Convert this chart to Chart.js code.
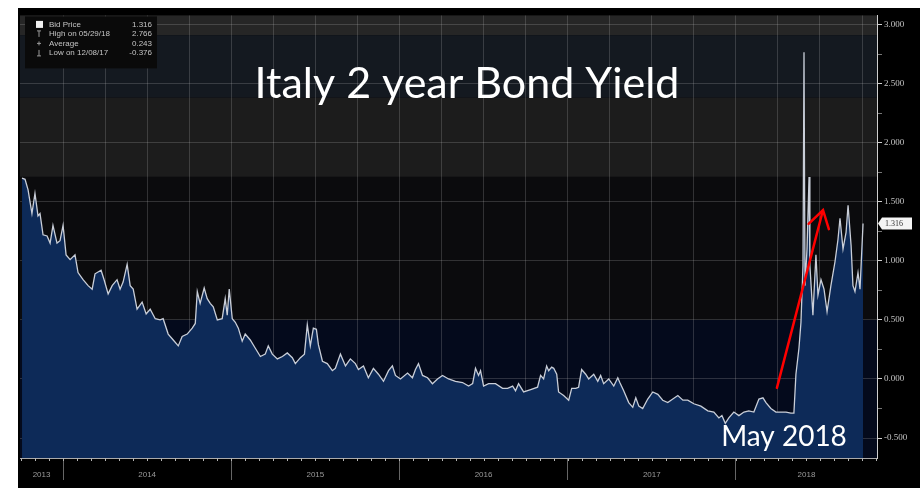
<!DOCTYPE html>
<html>
<head>
<meta charset="utf-8">
<title>Italy 2 year Bond Yield</title>
<script src="https://cdn.jsdelivr.net/npm/chart.js@4.4.1/dist/chart.umd.min.js"></script>
<style>
  html, body { margin: 0; padding: 0; background: #fff; }
  #wrap { position: absolute; left: 18px; top: 8px; width: 902px; height: 480px; background: #000; }
</style>
</head>
<body>
<div id="wrap"><canvas id="bond-chart" width="902" height="480"></canvas></div>
<script>
// dates as decimal years, yields in percent
var dates = [
  2013.756, 2013.774, 2013.792, 2013.815, 2013.833, 2013.851, 2013.863, 2013.881, 2013.905, 2013.923,
  2013.940, 2013.964, 2013.982, 2014.000, 2014.018, 2014.042, 2014.071, 2014.089, 2014.119, 2014.149,
  2014.173, 2014.190, 2014.226, 2014.244, 2014.268, 2014.292, 2014.321, 2014.339, 2014.357, 2014.381,
  2014.399, 2014.417, 2014.440, 2014.470, 2014.494, 2014.518, 2014.548, 2014.577, 2014.595, 2014.625,
  2014.655, 2014.685, 2014.708, 2014.738, 2014.768, 2014.786, 2014.798, 2014.815, 2014.839, 2014.857,
  2014.875, 2014.893, 2014.917, 2014.946, 2014.964, 2014.976, 2014.988, 2015.006, 2015.024, 2015.042,
  2015.065, 2015.083, 2015.113, 2015.143, 2015.173, 2015.202, 2015.220, 2015.244, 2015.274, 2015.304,
  2015.333, 2015.363, 2015.381, 2015.411, 2015.435, 2015.452, 2015.470, 2015.488, 2015.506, 2015.518,
  2015.542, 2015.571, 2015.601, 2015.619, 2015.649, 2015.679, 2015.708, 2015.738, 2015.756, 2015.786,
  2015.815, 2015.845, 2015.875, 2015.905, 2015.935, 2015.958, 2015.976, 2016.006, 2016.048, 2016.077,
  2016.095, 2016.113, 2016.137, 2016.167, 2016.196, 2016.226, 2016.256, 2016.292, 2016.333, 2016.375,
  2016.411, 2016.435, 2016.452, 2016.470, 2016.482, 2016.500, 2016.530, 2016.571, 2016.613, 2016.643,
  2016.673, 2016.690, 2016.708, 2016.738, 2016.780, 2016.821, 2016.839, 2016.857, 2016.875, 2016.887,
  2016.905, 2016.917, 2016.935, 2016.946, 2016.976, 2017.006, 2017.024, 2017.048, 2017.065, 2017.083,
  2017.107, 2017.125, 2017.155, 2017.179, 2017.196, 2017.214, 2017.244, 2017.274, 2017.298, 2017.310,
  2017.333, 2017.363, 2017.387, 2017.405, 2017.423, 2017.446, 2017.476, 2017.506, 2017.536, 2017.565,
  2017.595, 2017.625, 2017.655, 2017.685, 2017.714, 2017.750, 2017.792, 2017.833, 2017.869, 2017.899,
  2017.917, 2017.937, 2017.958, 2017.988, 2018.018, 2018.048, 2018.077, 2018.107, 2018.137, 2018.161,
  2018.179, 2018.208, 2018.238, 2018.268, 2018.298, 2018.327, 2018.345, 2018.357, 2018.375, 2018.387,
  2018.399, 2018.405, 2018.411, 2018.423, 2018.435, 2018.440, 2018.458, 2018.476, 2018.488, 2018.506,
  2018.524, 2018.542, 2018.565, 2018.589, 2018.607, 2018.619, 2018.637, 2018.655, 2018.667, 2018.685,
  2018.696, 2018.708, 2018.726, 2018.738, 2018.756
];
var yields = [
  1.70, 1.69, 1.60, 1.40, 1.57, 1.38, 1.40, 1.22, 1.21, 1.15,
  1.30, 1.15, 1.17, 1.30, 1.05, 1.01, 1.05, 0.90, 0.84, 0.79,
  0.76, 0.89, 0.92, 0.84, 0.72, 0.79, 0.84, 0.76, 0.82, 0.97,
  0.79, 0.76, 0.59, 0.65, 0.55, 0.59, 0.51, 0.50, 0.51, 0.38,
  0.33, 0.28, 0.36, 0.38, 0.43, 0.47, 0.74, 0.64, 0.77, 0.68,
  0.64, 0.61, 0.50, 0.51, 0.68, 0.54, 0.76, 0.51, 0.48, 0.43,
  0.32, 0.38, 0.33, 0.26, 0.19, 0.21, 0.28, 0.21, 0.17, 0.19,
  0.22, 0.18, 0.13, 0.18, 0.21, 0.46, 0.28, 0.43, 0.42, 0.29,
  0.15, 0.13, 0.07, 0.09, 0.21, 0.11, 0.17, 0.13, 0.08, 0.11,
  0.01, 0.09, 0.04, -0.02, 0.07, 0.11, 0.03, 0.00, 0.05, 0.01,
  0.08, 0.13, 0.03, 0.01, -0.04, 0.00, 0.03, 0.00, -0.02, -0.03,
  -0.06, -0.04, 0.09, 0.03, 0.07, -0.06, -0.04, -0.04, -0.08, -0.08,
  -0.06, -0.10, -0.04, -0.11, -0.09, -0.07, 0.03, 0.00, 0.11, 0.07,
  0.10, 0.09, 0.04, -0.11, -0.14, -0.18, -0.08, -0.08, -0.07, 0.08,
  0.04, 0.00, 0.04, -0.02, 0.03, -0.04, 0.00, -0.06, 0.01, -0.03,
  -0.10, -0.20, -0.24, -0.16, -0.23, -0.25, -0.17, -0.11, -0.13, -0.18,
  -0.20, -0.17, -0.14, -0.18, -0.18, -0.21, -0.23, -0.27, -0.28, -0.33,
  -0.31, -0.376, -0.33, -0.28, -0.31, -0.28, -0.27, -0.28, -0.17, -0.16,
  -0.20, -0.25, -0.28, -0.28, -0.28, -0.29, -0.29, 0.04, 0.26, 0.48,
  0.96, 2.766, 0.79, 1.10, 1.71, 0.96, 0.54, 1.05, 0.71, 0.84,
  0.76, 0.57, 0.79, 0.99, 1.18, 1.36, 1.10, 1.24, 1.47, 1.13,
  0.79, 0.74, 0.90, 0.76, 1.316
];

var yearLabels = ['2013', '2014', '2015', '2016', '2017', '2018'];
var yMajorTicks = [-0.5, 0, 0.5, 1, 1.5, 2, 2.5, 3];
var yMinorTicks = [-0.25, 0.25, 0.75, 1.25, 1.75, 2.25, 2.75];
var legendLabels = ['Bid Price', 'High on 05/29/18', 'Average', 'Low on 12/08/17'];
var legendValues = ['1.316', '2.766', '0.243', '-0.376'];
var titleText = 'Italy 2 year Bond Yield';
var noteText = 'May 2018';

var xMin = 2013.744;
var xMax = 2018.839;

function near(a, b) { return Math.abs(a - b) < 1e-6; }
function isQuarter(v) { return near(v * 4, Math.round(v * 4)); }

// label sits in the middle of the visible part of each year
var labelPositions = yearLabels.map(function (y) {
  var yr = parseInt(y, 10);
  return (Math.max(yr, xMin) + Math.min(yr + 1, xMax)) / 2;
});

// background bands behind the plot
var bandsPlugin = {
  id: 'bands',
  beforeDraw: function (chart) {
    var ctx = chart.ctx, area = chart.chartArea, ys = chart.scales.y;
    var list = chart.options.plugins.bands.list;
    ctx.save();
    for (var b of list) {
      var top = Math.max(ys.getPixelForValue(b.to), area.top);
      var bottom = Math.min(ys.getPixelForValue(b.from), area.bottom);
      ctx.fillStyle = b.color;
      ctx.fillRect(area.left, top, area.right - area.left, bottom - top);
    }
    ctx.restore();
  }
};

// legend box, last price tag, title, note and arrow
var notesPlugin = {
  id: 'notes',
  afterDraw: function (chart) {
    var ctx = chart.ctx, area = chart.chartArea;
    var xs = chart.scales.x, ys = chart.scales.y;
    var opts = chart.options.plugins.notes;
    ctx.save();

    // small monthly ticks under the x axis line
    ctx.strokeStyle = '#b5b5b5';
    ctx.lineWidth = 1;
    for (var m = Math.ceil(xs.min * 12); m <= xs.max * 12; m++) {
      var px = Math.round(xs.getPixelForValue(m / 12)) + 0.5;
      ctx.beginPath();
      ctx.moveTo(px, area.bottom);
      ctx.lineTo(px, area.bottom + 3);
      ctx.stroke();
    }

    // legend box
    var lx = area.left + 5, ly = area.top + 1;
    ctx.fillStyle = '#0a0a0a';
    ctx.fillRect(lx, ly, 132, 52);
    ctx.font = '8px "Liberation Sans"';
    ctx.textBaseline = 'middle';
    for (var i = 0; i < legendLabels.length; i++) {
      var ty = ly + 8 + i * 9.5;
      var ix = lx + 14;
      ctx.strokeStyle = '#9a9a9a';
      ctx.fillStyle = '#f0f0f0';
      ctx.beginPath();
      if (i === 0) {
        ctx.fillRect(ix - 3, ty - 3.5, 7, 7);
      } else if (i === 1) {
        ctx.moveTo(ix - 2, ty - 3); ctx.lineTo(ix + 2, ty - 3);
        ctx.moveTo(ix, ty - 3); ctx.lineTo(ix, ty + 3);
      } else if (i === 2) {
        ctx.moveTo(ix - 2, ty); ctx.lineTo(ix + 2, ty);
        ctx.moveTo(ix, ty - 2); ctx.lineTo(ix, ty + 2);
      } else {
        ctx.moveTo(ix, ty - 3); ctx.lineTo(ix, ty + 3);
        ctx.moveTo(ix - 2, ty + 3); ctx.lineTo(ix + 2, ty + 3);
      }
      ctx.stroke();
      ctx.fillStyle = '#c4c4c4';
      ctx.textAlign = 'left';
      ctx.fillText(legendLabels[i], lx + 24, ty);
      ctx.textAlign = 'right';
      ctx.fillText(legendValues[i], lx + 127, ty);
    }

    // last price tag on the right axis
    var lastVal = yields[yields.length - 1];
    var py = ys.getPixelForValue(lastVal);
    var bx = area.right + 5;
    ctx.fillStyle = '#f4f4f4';
    ctx.beginPath();
    ctx.moveTo(bx - 4, py);
    ctx.lineTo(bx, py - 6);
    ctx.lineTo(bx + 30, py - 6);
    ctx.lineTo(bx + 30, py + 6);
    ctx.lineTo(bx, py + 6);
    ctx.closePath();
    ctx.fill();
    ctx.fillStyle = '#333';
    ctx.font = '8px "Liberation Serif"';
    ctx.textAlign = 'left';
    ctx.fillText(lastVal.toFixed(3), bx + 3, py + 0.5);

    // title
    ctx.fillStyle = '#ffffff';
    ctx.textAlign = 'center';
    ctx.textBaseline = 'alphabetic';
    ctx.font = '43px Lato';
    ctx.fillText(titleText, opts.titleAt[0], opts.titleAt[1]);
    ctx.font = '28px Lato';
    ctx.fillText(noteText, opts.noteAt[0], opts.noteAt[1]);

    // red arrow
    var x0 = xs.getPixelForValue(opts.arrowFrom[0]), y0 = ys.getPixelForValue(opts.arrowFrom[1]);
    var x1 = xs.getPixelForValue(opts.arrowTo[0]), y1 = ys.getPixelForValue(opts.arrowTo[1]);
    var ang = Math.atan2(y0 - y1, x0 - x1);
    ctx.strokeStyle = '#ff0000';
    ctx.lineWidth = 2.5;
    ctx.lineCap = 'round';
    ctx.beginPath();
    ctx.moveTo(x0, y0);
    ctx.lineTo(x1, y1);
    ctx.moveTo(x1 + 20 * Math.cos(ang - 0.55), y1 + 20 * Math.sin(ang - 0.55));
    ctx.lineTo(x1, y1);
    ctx.lineTo(x1 + 20 * Math.cos(ang + 0.55), y1 + 20 * Math.sin(ang + 0.55));
    ctx.stroke();

    ctx.restore();
  }
};

var points = dates.map(function (d, i) { return { x: d, y: yields[i] }; });

var ctx = document.getElementById('bond-chart').getContext('2d');
new Chart(ctx, {
  type: 'line',
  data: {
    datasets: [{
      label: 'Bid Price',
      data: points,
      borderColor: '#c9ced8',
      borderWidth: 1.3,
      backgroundColor: '#0d2a58',
      fill: 'start',
      pointRadius: 0,
      tension: 0
    }]
  },
  options: {
    responsive: false,
    animation: false,
    layout: { padding: { left: 2, top: 2, right: 0, bottom: 0 } },
    plugins: {
      legend: { display: false },
      tooltip: { enabled: false },
      bands: {
        list: [
          { from: 2.91, to: 3.2, color: '#262626' },
          { from: 2.38, to: 2.91, color: '#141920' },
          { from: 1.71, to: 2.38, color: '#1c1c1c' },
          { from: 0.5, to: 1.71, color: '#0b0b0d' },
          { from: -0.8, to: 0.5, color: '#040a1c' }
        ]
      },
      notes: {
        titleAt: [449, 90],
        noteAt: [766, 438],
        arrowFrom: [2018.244, -0.075],
        arrowTo: [2018.518, 1.43]
      }
    },
    scales: {
      x: {
        type: 'linear',
        min: xMin,
        max: xMax,
        z: 1,
        afterBuildTicks: function (scale) {
          var vals = [];
          for (var q = 2014; q <= 2018.75; q += 0.25) vals.push(q);
          labelPositions.forEach(function (p) {
            if (!vals.some(function (v) { return near(v, p); })) vals.push(p);
          });
          vals.sort(function (a, b) { return a - b; });
          scale.ticks = vals.map(function (v) { return { value: v }; });
        },
        afterFit: function (scale) { scale.height = 30; },
        grid: {
          color: function (c) {
            return c.tick && isQuarter(c.tick.value) ? 'rgba(190,190,190,0.22)' : 'transparent';
          },
          tickColor: function (c) {
            return c.tick && near(c.tick.value, Math.round(c.tick.value)) ? '#666' : 'transparent';
          },
          tickLength: 22,
          drawTicks: true
        },
        border: { display: true, color: '#aaa', width: 1 },
        ticks: {
          autoSkip: false,
          maxRotation: 0,
          padding: -10,
          color: '#9a9a9a',
          font: { family: '"Liberation Sans Narrow", "Liberation Sans"', size: 8 },
          callback: function (value) {
            for (var i = 0; i < labelPositions.length; i++) {
              if (near(labelPositions[i], value)) return yearLabels[i];
            }
            return '';
          }
        }
      },
      y: {
        position: 'right',
        min: -0.669,
        max: 3.077,
        z: 1,
        afterBuildTicks: function (scale) {
          var vals = yMajorTicks.concat(yMinorTicks).sort(function (a, b) { return a - b; });
          scale.ticks = vals.map(function (v) { return { value: v }; });
        },
        afterFit: function (scale) { scale.width = 43; },
        grid: {
          color: function (c) {
            return c.tick && yMajorTicks.indexOf(c.tick.value) >= 0 ? 'rgba(190,190,190,0.22)' : 'transparent';
          },
          tickColor: function (c) {
            return c.tick && yMajorTicks.indexOf(c.tick.value) >= 0 ? '#cfcfcf' : '#777';
          },
          tickLength: 5,
          drawTicks: true
        },
        border: { display: true, color: '#cfcfcf', width: 1 },
        ticks: {
          padding: 2,
          color: '#c4c4c4',
          font: { family: '"Liberation Serif"', size: 9 },
          callback: function (value) {
            return yMajorTicks.indexOf(value) >= 0 ? value.toFixed(3) : '';
          }
        }
      }
    }
  },
  plugins: [bandsPlugin, notesPlugin]
});
</script>
</body>
</html>
